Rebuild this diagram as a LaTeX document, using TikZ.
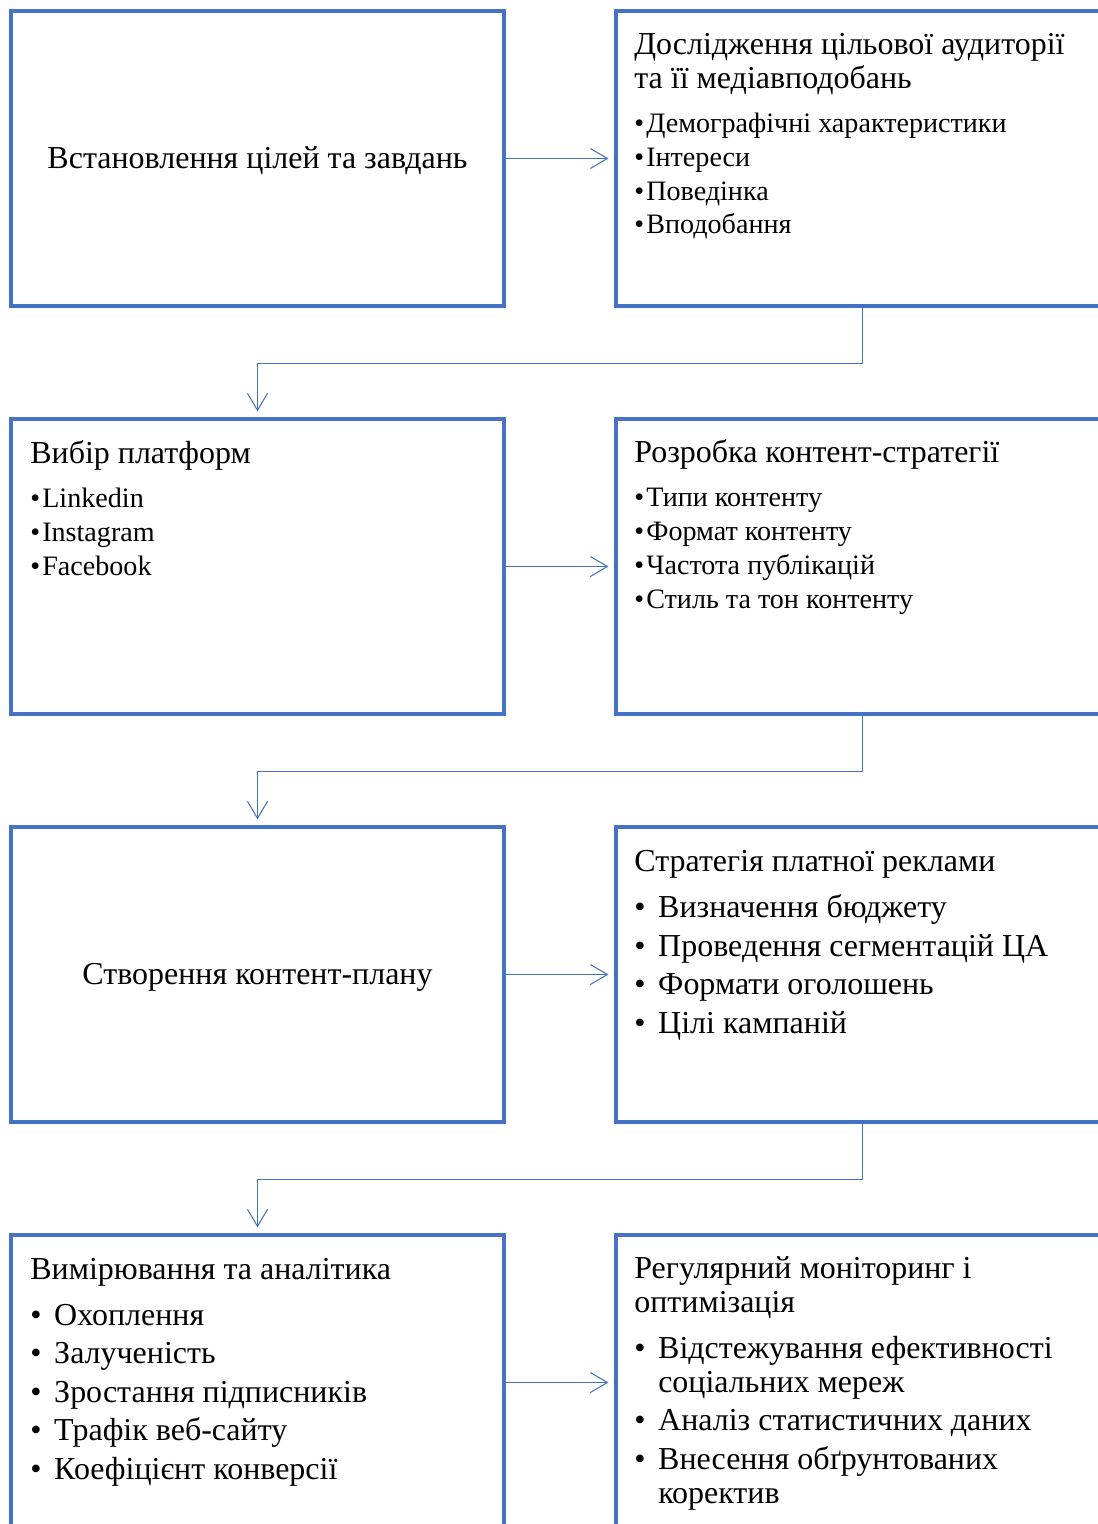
\documentclass[tikz,border=0pt]{standalone}
\usepackage{fontspec}
\setmainfont{Liberation Serif}
\usetikzlibrary{arrows.meta, positioning}
\definecolor{boxblue}{HTML}{4472C4}
\newcommand{\smallbul}{\fontsize{16}{19.3}\selectfont\textbullet\hspace{1.2pt}}
\newcommand{\bigbul}{\makebox[13.6pt][l]{\textbullet}}

\begin{document}
\begin{tikzpicture}[x=0.02cm, y=-0.02cm,
    stage/.style={draw=boxblue, line width=1.9pt, minimum width=9.86cm, minimum height=5.9cm, inner sep=0pt},
    flow/.style={draw=boxblue, line width=0.6pt, -{Straight Barb[length=0.34cm, width=0.4cm]}, shorten >=0.12cm},
    txt/.style={align=left, inner sep=0pt, font=\fontsize{18.2}{19.3}\selectfont}]
    \path[use as bounding box, clip] (0,0) rectangle (1098,1524);

    % boxes
    \node[stage] (goals) at (257.5,158.5) {};
    \node[stage] (audience) at (862.5,158.5) {};
    \node[stage] (platforms) at (257.5,566.5) {};
    \node[stage] (strategy) at (862.5,566.5) {};
    \node[stage] (plan) at (257.5,974.5) {};
    \node[stage] (ads) at (862.5,974.5) {};
    \node[stage] (analytics) at (257.5,1382.5) {};
    \node[stage] (monitor) at (862.5,1382.5) {};

    % texts (base = last line)
    \node[txt] (goalsT) at (257.5,161) {Встановлення цілей та завдань};
    \node[txt, anchor=base west] (audienceT) at (634,234) {Дослідження цільової аудиторії\\
        та її медіавподобань\\[5.4pt]
        \smallbul Демографічні характеристики\\
        \smallbul Інтереси\\
        \smallbul Поведінка\\
        \smallbul Вподобання};
    \node[txt, anchor=base west] (platformsT) at (30,575) {Вибір платформ\\[5.4pt]
        \smallbul Linkedin\\
        \smallbul Instagram\\
        \smallbul Facebook};
    \node[txt, anchor=base west] (strategyT) at (634,608) {Розробка контент-стратегії\\[5.4pt]
        \smallbul Типи контенту\\
        \smallbul Формат контенту\\
        \smallbul Частота публікацій\\
        \smallbul Стиль та тон контенту};
    \node[txt] (planT) at (257.5,977) {Створення контент-плану};
    \node[txt, anchor=base west] (adsT) at (634,1033) {Стратегія платної реклами\\[6.8pt]
        \bigbul Визначення бюджету\\[2.6pt]
        \bigbul Проведення сегментацій ЦА\\[2.6pt]
        \bigbul Формати оголошень\\[2.6pt]
        \bigbul Цілі кампаній};
    \node[txt, anchor=base west] (analyticsT) at (30,1479) {Вимірювання та аналітика\\[6.8pt]
        \bigbul Охоплення\\[2.6pt]
        \bigbul Залученість\\[2.6pt]
        \bigbul Зростання підписників\\[2.6pt]
        \bigbul Трафік веб-сайту\\[2.6pt]
        \bigbul Коефіцієнт конверсії};
    \node[txt, anchor=base west] (monitorT) at (634,1503) {Регулярний моніторинг і\\
        оптимізація\\[6.8pt]
        \bigbul Відстежування ефективності\\
        \hspace*{13.6pt}соціальних мереж\\[2.6pt]
        \bigbul Аналіз статистичних даних\\[2.6pt]
        \bigbul Внесення обґрунтованих\\
        \hspace*{13.6pt}коректив};

    % connectors
    \draw[flow] (goals) -- (audience);
    \draw[flow] (platforms) -- (strategy);
    \draw[flow] (plan) -- (ads);
    \draw[flow] (analytics) -- (monitor);
    \draw[flow] (audience.south) -- ++(0,56) -| (platforms.north);
    \draw[flow] (strategy.south) -- ++(0,56) -| (plan.north);
    \draw[flow] (ads.south) -- ++(0,56) -| (analytics.north);
\end{tikzpicture}
\end{document}
